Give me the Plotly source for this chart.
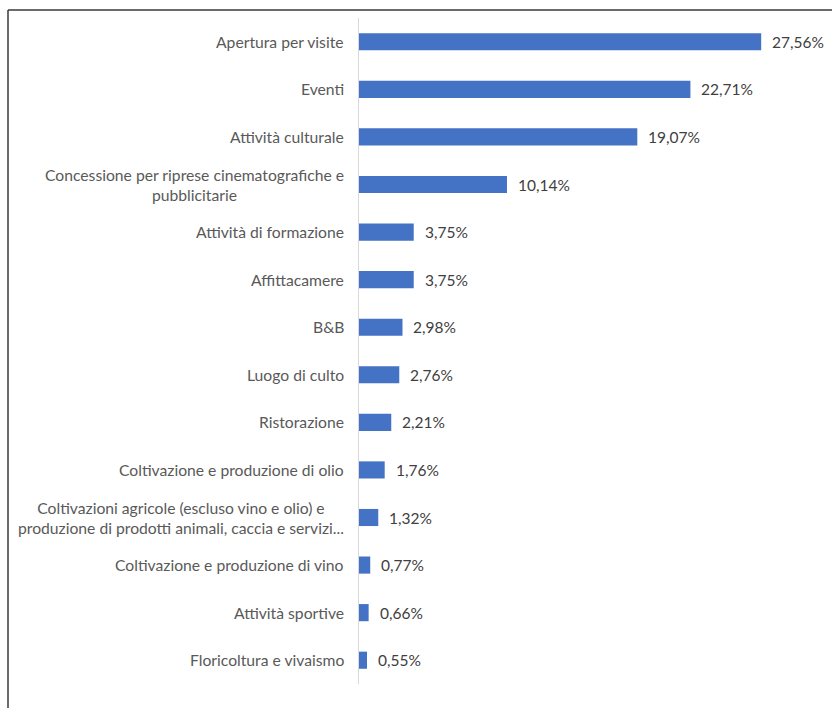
import plotly.graph_objects as go

categories = [
    "Apertura per visite",
    "Eventi",
    "Attività culturale",
    "Concessione per riprese cinematografiche e<br>pubblicitarie",
    "Attività di formazione",
    "Affittacamere",
    "B&B",
    "Luogo di culto",
    "Ristorazione",
    "Coltivazione e produzione di olio",
    "Coltivazioni agricole (escluso vino e olio) e<br>produzione di prodotti animali, caccia e servizi...",
    "Coltivazione e produzione di vino",
    "Attività sportive",
    "Floricoltura e vivaismo",
]
values = [27.56, 22.71, 19.07, 10.14, 3.75, 3.75, 2.98, 2.76, 2.21, 1.76, 1.32, 0.77, 0.66, 0.55]

FONT = "Lato, 'Open Sans', sans-serif"
BAR_COLOR = "#4472C4"

fig = go.Figure(
    go.Bar(
        x=values,
        y=categories,
        orientation="h",
        marker=dict(color=BAR_COLOR, line=dict(width=0)),
        hoverinfo="skip",
    )
)

# value labels to the right of each bar, Italian decimal comma
for c, v in zip(categories, values):
    fig.add_annotation(
        x=v, y=c, xref="x", yref="y",
        text=f"{v:.2f}".replace(".", ",") + "%",
        showarrow=False, xanchor="left", xshift=9,
        font=dict(family=FONT, size=15.5, color="#404040"),
    )

# category labels, centred lines, right-aligned to the axis
for c in categories:
    fig.add_annotation(
        x=0, y=c, xref="paper", yref="y",
        text=c, showarrow=False, xanchor="right", xshift=-13,
        align="center",
        font=dict(family=FONT, size=15.7, color="#595959"),
    )

# outer frame (left and top edges)
L, T, B, R = 8, 10, 708, 832
PL, PR, PT, PB = 359, 826, 18, 684
def px(x):
    return (x - PL) / (PR - PL)
def py(y):
    return (PB - y) / (PB - PT)
fig.add_shape(type="line", xref="paper", yref="paper",
              x0=px(L), x1=px(L), y0=py(T), y1=py(B),
              line=dict(color="#3a3a3a", width=1.5))
fig.add_shape(type="line", xref="paper", yref="paper",
              x0=px(L), x1=px(R), y0=py(T), y1=py(T),
              line=dict(color="#3a3a3a", width=1.5))

fig.update_layout(
    width=832, height=708,
    margin=dict(l=PL, r=832 - PR, t=PT, b=708 - PB),
    paper_bgcolor="white", plot_bgcolor="white",
    bargap=0.64,
    showlegend=False,
    font=dict(family=FONT),
)
fig.update_xaxes(range=[0, 32], visible=False, showgrid=False, zeroline=False)
fig.update_yaxes(
    autorange="reversed", showticklabels=False, ticks="",
    showline=True, linecolor="#D9D9D9", linewidth=1,
    showgrid=False, zeroline=False,
)

fig.write_html("out.html")
